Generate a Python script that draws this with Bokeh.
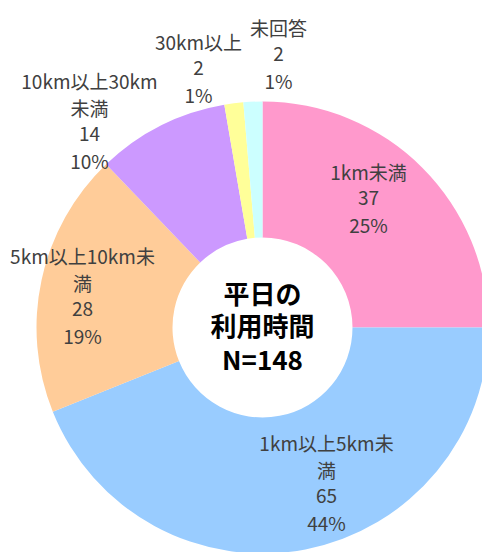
import math
from bokeh.plotting import figure
from bokeh.models import Range1d, ColumnDataSource
from bokeh.core.properties import value
from bokeh.embed import file_html
from bokeh.resources import INLINE

# ---- data ----
categories = ["1km未満", "1km以上5km未満", "5km以上10km未満", "10km以上30km未満", "30km以上", "未回答"]
counts = [37, 65, 28, 14, 2, 2]
percents = [25, 44, 19, 10, 1, 1]
label_lines = [["1km未満"], ["1km以上5km未", "満"], ["5km以上10km未", "満"],
               ["10km以上30km", "未満"], ["30km以上"], ["未回答"]]
colors = ["#FF99CC", "#99CCFF", "#FFCC99", "#CC99FF", "#FFFF99", "#CCFFFF"]
center_lines = ["平日の", "利用時間", "N=148"]

# ---- layout ----
W, H = 482, 552
CX, CY = 262, H - 327          # pie centre in data (pixel) units, y up
R_OUT, R_IN = 226, 90
# label block centres (pixel coords, y down)
label_pos = [(368, 197), (326, 482), (82, 295), (89, 120), (198, 67), (278, 53)]
LINE_H = 26.5

p = figure(width=W, height=H, output_backend="svg", toolbar_location=None,
           x_range=Range1d(0, W), y_range=Range1d(0, H), min_border=0)
p.axis.visible = False
p.grid.visible = False
p.outline_line_color = None
p.background_fill_color = "white"
p.border_fill_color = "white"

total = sum(counts)
starts, ends = [], []
acc = 0
for c in counts:
    a0 = math.pi / 2 - 2 * math.pi * acc / total
    acc += c
    a1 = math.pi / 2 - 2 * math.pi * acc / total
    starts.append(a1)
    ends.append(a0)

src = ColumnDataSource(dict(start=starts, end=ends, color=colors))
p.annular_wedge(x=CX, y=CY, inner_radius=R_IN, outer_radius=R_OUT,
                start_angle="start", end_angle="end", fill_color="color",
                line_color=None, source=src)

tx, ty, tt = [], [], []
for lines, cnt, pct, (lx, ly) in zip(label_lines, counts, percents, label_pos):
    all_lines = lines + [str(cnt), f"{pct}%"]
    n = len(all_lines)
    for i, s in enumerate(all_lines):
        yy = ly + (i - (n - 1) / 2) * LINE_H
        tx.append(lx)
        ty.append(H - yy)
        tt.append(s)
p.text(x=tx, y=ty, text=tt, text_font=value("Noto Sans CJK JP"),
       text_font_size="19px", text_color="#404040",
       text_align="center", text_baseline="middle")

cy_lines = [292, 324, 358]
p.text(x=[CX] * 3, y=[H - v for v in cy_lines], text=center_lines,
       text_font=value("Noto Sans CJK JP"), text_font_size="26px",
       text_font_style="bold", text_color="#000000",
       text_align="center", text_baseline="middle")

open("out.html", "w").write(file_html(p, INLINE))
